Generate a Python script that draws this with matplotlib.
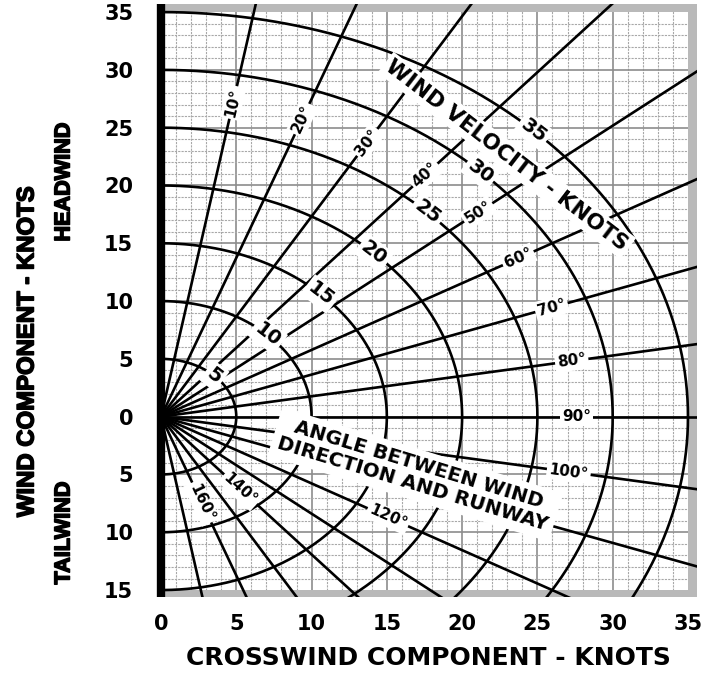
import numpy as np
import matplotlib
matplotlib.use("Agg")
import matplotlib.pyplot as plt
from matplotlib import font_manager
from matplotlib import patheffects
from matplotlib.patches import Rectangle

# wind velocity rings (knots) and wind/runway angle lines (degrees)
velocity_rings = [5, 10, 15, 20, 25, 30, 35]
angle_lines = [10, 20, 30, 40, 50, 60, 70, 80, 90, 100, 110, 120, 130, 140, 150, 160, 170]
labeled_angles = [10, 20, 30, 40, 50, 60, 70, 80, 90, 100, 120, 140, 160]
label_radius = [27.6, 27.4, 27.4, 27.3, 27.5, 27.4, 27.6, 27.7, 27.6, 27.5, 17.4, 8.2, 7.9]
ring_label_angle = 45

x_ticks = [0, 5, 10, 15, 20, 25, 30, 35]
y_ticks = [35, 30, 25, 20, 15, 10, 5, 0, -5, -10, -15]
y_tick_labels = ["35", "30", "25", "20", "15", "10", "5", "0", "5", "10", "15"]

names = {f.name for f in font_manager.fontManager.ttflist}
if "Liberation Sans Narrow" in names:
    narrow = dict(family="Liberation Sans Narrow", fontweight="bold")
    k = 1.0
else:
    narrow = dict(family="Liberation Sans", fontweight="bold")
    k = 0.82
# the narrow face may only come in regular weight, so thicken it a bit
fat = [patheffects.withStroke(linewidth=1.1, foreground="black")]

fig = plt.figure(figsize=(7.1, 6.73), dpi=100)
ax = fig.add_axes([161 / 710, 1 - 597 / 673, 536 / 710, 593 / 673])
xmax, ymin, ymax = 35.6, -15.6, 35.7
ax.set_xlim(0, xmax)
ax.set_ylim(ymin, ymax)
for s in ax.spines.values():
    s.set_visible(False)

# fine grid every knot, heavier every 5
for v in np.arange(1, 35):
    major = v % 5 == 0
    ax.axvline(v, color="#8c8c8c" if major else "#a8a8a8", lw=1.2 if major else 0.8,
               ls="-" if major else (0, (2, 1)), zorder=1)
for v in np.arange(-14, 35):
    major = v % 5 == 0
    ax.axhline(v, color="#8c8c8c" if major else "#a8a8a8", lw=1.2 if major else 0.8,
               ls="-" if major else (0, (2, 1)), zorder=1)

# gray border bands
band = dict(facecolor="#b9b9b9", edgecolor="none", zorder=2)
ax.add_patch(Rectangle((0, 35), xmax, ymax - 35, **band))
ax.add_patch(Rectangle((35, ymin), xmax - 35, ymax - ymin, **band))
ax.add_patch(Rectangle((0, ymin), xmax, -15 - ymin, **band))

phi = np.radians(np.linspace(0, 180, 721))
for r in velocity_rings:
    ax.plot(r * np.sin(phi), r * np.cos(phi), color="black", lw=1.9, zorder=3)

for a in angle_lines:
    t = np.radians(a)
    ax.plot([0, 60 * np.sin(t)], [0, 60 * np.cos(t)], color="black", lw=1.9, zorder=3)

ax.plot([0, 0], [ymin, ymax], color="black", lw=6, clip_on=False,
        solid_capstyle="butt", zorder=4)

box = dict(boxstyle="square,pad=0.15", fc="white", ec="none")
for a, r in zip(labeled_angles, label_radius):
    t = np.radians(a)
    ax.text(r * np.sin(t), r * np.cos(t), f"{a}°", fontsize=11, fontweight="bold",
            ha="center", va="center", rotation=90 - a, transform_rotates_text=True,
            rotation_mode="anchor", bbox=box, zorder=5)

t = np.radians(ring_label_angle)
for r in velocity_rings:
    ax.text(r * np.sin(t), r * np.cos(t), str(r), fontsize=14, fontweight="bold",
            ha="center", va="center", rotation=-ring_label_angle,
            transform_rotates_text=True, rotation_mode="anchor", bbox=box, zorder=5)

ax.text(22.97, 22.6, "WIND VELOCITY - KNOTS", fontsize=15.5, fontweight="bold",
        ha="center", va="center", rotation=-45, transform_rotates_text=True,
        rotation_mode="anchor", bbox=dict(boxstyle="square,pad=0.15", fc="white", ec="none"),
        zorder=5)
ax.text(16.9, -5.0, "ANGLE BETWEEN WIND\nDIRECTION AND RUNWAY", fontsize=14.3,
        fontweight="bold", ha="center", va="center", multialignment="center",
        rotation=-17, rotation_mode="anchor", linespacing=1.05,
        bbox=dict(boxstyle="square,pad=0.3", fc="white", ec="none"), zorder=5)

ax.set_xticks(x_ticks)
ax.set_yticks(y_ticks)
ax.set_yticklabels(y_tick_labels)
ax.tick_params(length=0, labelsize=15)
ax.tick_params(axis="x", pad=12)
ax.tick_params(axis="y", pad=20)
for lab in ax.get_xticklabels() + ax.get_yticklabels():
    lab.set_fontweight("bold")

fig.text(428 / 710, 1 - 658 / 673, "CROSSWIND COMPONENT - KNOTS", fontsize=18,
         fontweight="bold", ha="center", va="center")
fig.text(27 / 710, 1 - 352 / 673, "WIND COMPONENT - KNOTS", fontsize=21 * k,
         rotation=90, ha="center", va="center", path_effects=fat, **narrow)
fig.text(64 / 710, 1 - 182 / 673, "HEADWIND", fontsize=19 * k,
         rotation=90, ha="center", va="center", path_effects=fat, **narrow)
fig.text(64 / 710, 1 - 533 / 673, "TAILWIND", fontsize=19 * k,
         rotation=90, ha="center", va="center", path_effects=fat, **narrow)

fig.savefig("out.png", dpi=100)
